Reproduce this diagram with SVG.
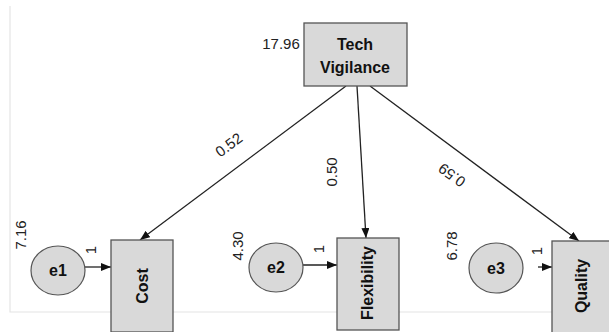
<svg xmlns="http://www.w3.org/2000/svg" width="609" height="332" viewBox="0 0 609 332">
<style>
.box{fill:#d9d9d9;stroke:#555;stroke-width:1.3}
.ell{fill:#d9d9d9;stroke:#555;stroke-width:1.2}
.lbl{font-family:"Liberation Sans",Arial,sans-serif;font-weight:bold;font-size:16px;fill:#111;text-anchor:middle}
.num{font-family:"Liberation Sans",Arial,sans-serif;font-size:15px;fill:#222;text-anchor:middle}
.edge{stroke:#222;stroke-width:1.3;fill:none;marker-end:url(#ah)}
.frame{stroke:#e4e4e4;stroke-width:1.2;fill:none}
</style>
<defs>
<marker id="ah" viewBox="0 0 10 8" refX="10" refY="4" markerWidth="10" markerHeight="8" markerUnits="userSpaceOnUse" orient="auto">
<path d="M0,0 L10,4 L0,8 z" fill="#111"/>
</marker>
</defs>
<rect width="609" height="332" fill="#fff"/>
<path class="frame" d="M10,6 V312 H111 M173,312 H337 M399,312 H552"/>
<g id="connectors">
<line class="edge" x1="346" y1="86" x2="140" y2="240"/>
<line class="edge" x1="357" y1="86" x2="366" y2="238"/>
<line class="edge" x1="370" y1="86" x2="579" y2="241"/>
<line class="edge" x1="85" y1="267" x2="111" y2="267"/>
<line class="edge" x1="303" y1="265" x2="337" y2="265"/>
<line class="edge" x1="538" y1="267" x2="552" y2="267"/>
<text class="num" transform="translate(229,145) rotate(-37)" dy="5">0.52</text>
<text class="num" transform="translate(332,172) rotate(-90)" dy="5">0.50</text>
<text class="num" transform="translate(452,175) rotate(216)" dy="5">0.59</text>
<text class="num" transform="translate(91,250) rotate(-90)" dy="5">1</text>
<text class="num" transform="translate(319,249) rotate(-90)" dy="5">1</text>
<text class="num" transform="translate(537,251) rotate(-90)" dy="5">1</text>
</g>
<g id="tech">
<rect class="box" x="304" y="23" width="103" height="63"/>
<text class="lbl" x="355" y="50" font-size="17">Tech</text>
<text class="lbl" x="355" y="73" font-size="17">Vigilance</text>
<text class="num" x="281" y="49" font-size="16">17.96</text>
</g>
<g id="cost">
<rect class="box" x="111" y="240" width="62" height="92"/>
<text class="lbl" transform="translate(143,286) rotate(-90)" dy="5">Cost</text>
</g>
<g id="flexibility">
<rect class="box" x="337" y="238" width="62" height="92"/>
<text class="lbl" transform="translate(368,283) rotate(-90)" dy="5">Flexibility</text>
</g>
<g id="quality">
<rect class="box" x="552" y="241" width="62" height="95"/>
<text class="lbl" transform="translate(582,286) rotate(-90)" dy="5">Quality</text>
</g>
<g id="e1">
<ellipse class="ell" cx="58" cy="270.5" rx="27" ry="24.5"/>
<text class="lbl" x="58" y="276" font-size="15">e1</text>
<text class="num" transform="translate(21,235) rotate(-90)" dy="5">7.16</text>
</g>
<g id="e2">
<ellipse class="ell" cx="276" cy="267.5" rx="27" ry="24.5"/>
<text class="lbl" x="276" y="273" font-size="15">e2</text>
<text class="num" transform="translate(238,246) rotate(-90)" dy="5">4.30</text>
</g>
<g id="e3">
<ellipse class="ell" cx="496" cy="268" rx="27" ry="25"/>
<text class="lbl" x="496" y="273.5" font-size="15">e3</text>
<text class="num" transform="translate(452,246) rotate(-90)" dy="5">6.78</text>
</g>
</svg>
